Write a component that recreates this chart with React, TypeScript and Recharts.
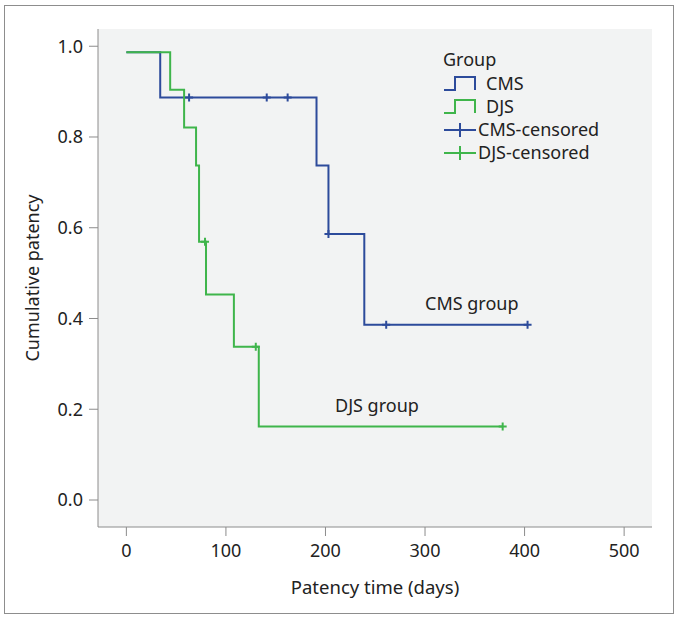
import { CartesianGrid, Legend, Line, LineChart, XAxis, YAxis } from 'recharts'

// Kaplan-Meier estimates
const cmsDays = [0, 34, 63, 141, 162, 191, 203, 239, 261, 403]
const cmsPatency = [0.987, 0.887, 0.887, 0.887, 0.887, 0.737, 0.586, 0.386, 0.386, 0.386]
const cmsCensored = [0, 0, 1, 1, 1, 0, 1, 0, 1, 1]

const djsDays = [0, 44, 58, 70, 73, 79, 80, 108, 130, 133, 378]
const djsPatency = [0.987, 0.904, 0.821, 0.737, 0.569, 0.569, 0.453, 0.338, 0.338, 0.162, 0.162]
const djsCensored = [0, 0, 0, 0, 0, 1, 0, 0, 1, 0, 1]

const xTicks = [0, 100, 200, 300, 400, 500]
const yTicks = [0, 0.2, 0.4, 0.6, 0.8, 1.0]

const BLUE = '#2d4b9b'
const GREEN = '#3fb54b'
const AXIS = '#8c8c8c'
const FONT = "'Noto Sans', sans-serif"

const legendItems = [
  { label: 'CMS', kind: 'step', color: BLUE },
  { label: 'DJS', kind: 'step', color: GREEN },
  { label: 'CMS-censored', kind: 'plus', color: BLUE },
  { label: 'DJS-censored', kind: 'plus', color: GREEN },
]

const cmsData = cmsDays.map((d, i) => ({ day: d, patency: cmsPatency[i], censored: cmsCensored[i] }))
const djsData = djsDays.map((d, i) => ({ day: d, patency: djsPatency[i], censored: djsCensored[i] }))

function censorDot(color: string) {
  return (props: any) => {
    const { cx, cy, payload, index } = props
    if (!payload?.censored) return <g key={`e-${index}`} />
    return (
      <path
        key={`c-${index}`}
        d={`M${cx - 4},${cy}H${cx + 4}M${cx},${cy - 4}V${cy + 4}`}
        stroke={color}
        strokeWidth={2}
        fill="none"
      />
    )
  }
}

function GroupLegend() {
  return (
    <div style={{ fontFamily: FONT, fontSize: 18, color: '#222', lineHeight: '23px' }}>
      <div style={{ height: 26, lineHeight: '26px' }}>Group</div>
      {legendItems.map((item) => (
        <div key={item.label} style={{ display: 'flex', alignItems: 'center', height: 23 }}>
          <svg width={34} height={16} style={{ display: 'block' }}>
            {item.kind === 'step' ? (
              <path d="M1,14H12V1H32V14" stroke={item.color} strokeWidth={2} fill="none" />
            ) : (
              <path d="M1,8H33M17,1V15" stroke={item.color} strokeWidth={2} fill="none" />
            )}
          </svg>
          <span style={{ marginLeft: item.kind === 'step' ? 9 : 1 }}>{item.label}</span>
        </div>
      ))}
    </div>
  )
}

const noteStyle = {
  position: 'absolute' as const,
  fontFamily: FONT,
  fontSize: 18,
  color: '#222',
  lineHeight: '20px',
  whiteSpace: 'nowrap' as const,
}

export default function App() {
  return (
    <div style={{ position: 'absolute', left: 0, top: 0, width: 679, height: 617, background: '#fff' }}>
      <div
        style={{
          position: 'absolute',
          left: 4,
          top: 5,
          width: 668,
          height: 607,
          border: '1.5px solid #8d8d8d',
        }}
      />
      <LineChart
        width={679}
        height={617}
        margin={{ top: 29, right: 27, bottom: 4, left: 4 }}
        style={{ position: 'absolute', left: 0, top: 0, fontFamily: FONT }}
      >
        <CartesianGrid fill="#f2f3f3" horizontal={false} vertical={false} />
        <XAxis
          xAxisId="bottom"
          dataKey="day"
          type="number"
          domain={[-28.5, 528]}
          ticks={xTicks}
          height={86}
          stroke={AXIS}
          tickSize={9}
          tickMargin={8}
          tick={{ fill: '#222', fontSize: 18 }}
          label={{ value: 'Patency time (days)', position: 'insideBottom', offset: 19, fill: '#222', fontSize: 18.5 }}
        />
        <XAxis xAxisId="top" orientation="top" type="number" domain={[-28.5, 528]} height={0} tick={false} tickLine={false} stroke={AXIS} />
        <YAxis
          yAxisId="left"
          type="number"
          domain={[-0.0595, 1.038]}
          ticks={yTicks}
          width={94}
          stroke={AXIS}
          tickSize={9}
          tickMargin={6}
          tickFormatter={(v: number) => v.toFixed(1)}
          tick={{ fill: '#222', fontSize: 18 }}
          label={{
            value: 'Cumulative patency',
            angle: -90,
            position: 'insideLeft',
            offset: 29,
            fill: '#222',
            fontSize: 18,
            style: { textAnchor: 'middle' },
          }}
        />
        <YAxis yAxisId="right" orientation="right" type="number" domain={[-0.0595, 1.038]} width={0} tick={false} tickLine={false} stroke={AXIS} />
        <Line
          xAxisId="bottom"
          yAxisId="left"
          data={cmsData}
          dataKey="patency"
          type="stepAfter"
          stroke={BLUE}
          strokeWidth={2}
          dot={censorDot(BLUE)}
          activeDot={false}
          isAnimationActive={false}
        />
        <Line
          xAxisId="bottom"
          yAxisId="left"
          data={djsData}
          dataKey="patency"
          type="stepAfter"
          stroke={GREEN}
          strokeWidth={2}
          dot={censorDot(GREEN)}
          activeDot={false}
          isAnimationActive={false}
        />
        <Legend
          layout="horizontal"
          verticalAlign="middle"
          align="center"
          content={() => <GroupLegend />}
          wrapperStyle={{ position: 'absolute', left: 443, top: 46, width: 200, height: 125 }}
        />
      </LineChart>
      <div style={{ ...noteStyle, left: 425, top: 293 }}>CMS group</div>
      <div style={{ ...noteStyle, left: 335, top: 395 }}>DJS group</div>
    </div>
  )
}
